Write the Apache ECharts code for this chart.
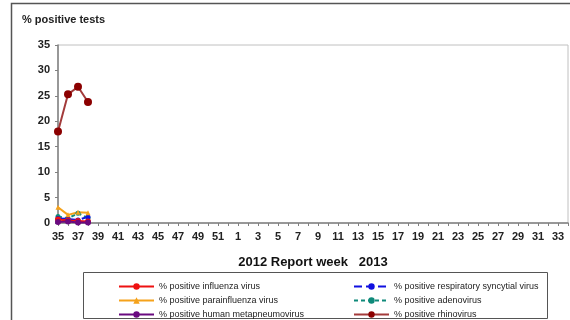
<!DOCTYPE html>
<html>
<head>
<meta charset="utf-8">
<script src="https://cdn.jsdelivr.net/npm/echarts@6/dist/echarts.min.js"></script>
<style>html,body{margin:0;padding:0;background:#fff}#c{width:570px;height:320px}</style>
</head>
<body>
<div id="c"></div>
<script>
var weeks = ['35','36','37','38','39','40','41','42','43','44','45','46','47','48','49','50','51','52',
  '1','2','3','4','5','6','7','8','9','10','11','12','13','14','15','16','17','18','19','20','21','22','23','24','25','26','27','28','29','30','31','32','33','34'];
var influenza = [0.7, 0.5, 0.4, 0.3];
var parainfluenza = [3.1, 1.6, 2.1, 2.0];
var hmpv = [0.2, 0.3, 0.1, 0.1];
var rsv = [0.9, 0.8, 0.6, 1.2];
var adenovirus = [1.3, 0.9, 1.9, 1.0];
var rhinovirus = [18.0, 25.3, 26.8, 23.8];
var yTicks = [0, 5, 10, 15, 20, 25, 30, 35];

var F = '"Liberation Sans Narrow","Liberation Sans",Arial,sans-serif';
var chart = echarts.init(document.getElementById('c'));
function ls(name, data, color, opts) {
  opts = opts || {};
  return {
    name: name, type: 'line', data: data, showAllSymbol: true,
    symbol: opts.symbol || 'circle', symbolSize: opts.size || 5,
    lineStyle: {color: opts.lineColor || color, width: 2, type: opts.dash || 'solid'},
    itemStyle: {color: color},
    z: opts.z || 2, animation: false
  };
}
function leg(name, left, top) {
  return {left: left, top: top, itemWidth: 35, itemHeight: 8, itemGap: 2,
    textStyle: {fontSize: 9, color: '#222', fontFamily: F}, data: [name]};
}
var N1 = '% positive influenza virus', N2 = '% positive parainfluenza virus', N3 = '% positive human metapneumovirus',
    N4 = '% positive respiratory syncytial virus', N5 = '% positive adenovirus', N6 = '% positive rhinovirus';
chart.setOption({
  animation: false,
  textStyle: {fontFamily: F},
  title: {text: '% positive tests', left: 17, top: 9,
    textStyle: {fontSize: 11, fontWeight: 'bold', color: '#222', fontFamily: F}},
  grid: {left: 58, right: 2, top: 45, bottom: 97, show: true, borderColor: '#c0c0c0', borderWidth: 1},
  xAxis: {
    type: 'category', data: weeks, boundaryGap: false,
    name: '2012 Report week   2013', nameLocation: 'middle', nameGap: 33,
    nameTextStyle: {fontSize: 13, fontWeight: 'bold', color: '#111', fontFamily: F},
    axisLine: {lineStyle: {color: '#808080', width: 1.5}},
    axisTick: {interval: 0, length: 3, lineStyle: {color: '#808080'}},
    axisLabel: {interval: 1, fontSize: 11, fontWeight: 'bold', color: '#222', margin: 8, fontFamily: F},
    splitLine: {show: false}
  },
  yAxis: {
    type: 'value', min: yTicks[0], max: yTicks[yTicks.length-1], interval: 5,
    axisLine: {show: true, lineStyle: {color: '#808080', width: 1.5}},
    axisTick: {show: true, length: 3, lineStyle: {color: '#808080'}},
    axisLabel: {fontSize: 11, fontWeight: 'bold', color: '#222', margin: 8, fontFamily: F},
    splitLine: {show: false}
  },
  legend: [
    leg(N1, 113, 277), leg(N2, 113, 291), leg(N3, 113, 305),
    leg(N4, 348, 277), leg(N5, 348, 291), leg(N6, 348, 305)
  ],
  graphic: [
    {type: 'rect', shape: {x: 11.5, y: 3.5, width: 600, height: 400}, style: {fill: 'none', stroke: '#555', lineWidth: 1.5}, silent: true},
    {type: 'rect', shape: {x: 83.5, y: 272.5, width: 464, height: 46}, style: {fill: 'none', stroke: '#555', lineWidth: 1}, silent: true}
  ],
  series: [
    ls(N6, rhinovirus, '#8b0000', {lineColor: '#a33b3b', size: 8, z: 3}),
    ls(N5, adenovirus, '#0f8a7a', {dash: [4, 3]}),
    ls(N4, rsv, '#1010e0', {dash: [8, 4]}),
    ls(N2, parainfluenza, '#f5a21b', {symbol: 'triangle', size: 5}),
    ls(N1, influenza, '#ee1111', {size: 6, z: 4}),
    ls(N3, hmpv, '#6a0a80', {size: 6, z: 4})
  ]
});
</script>
</body>
</html>
